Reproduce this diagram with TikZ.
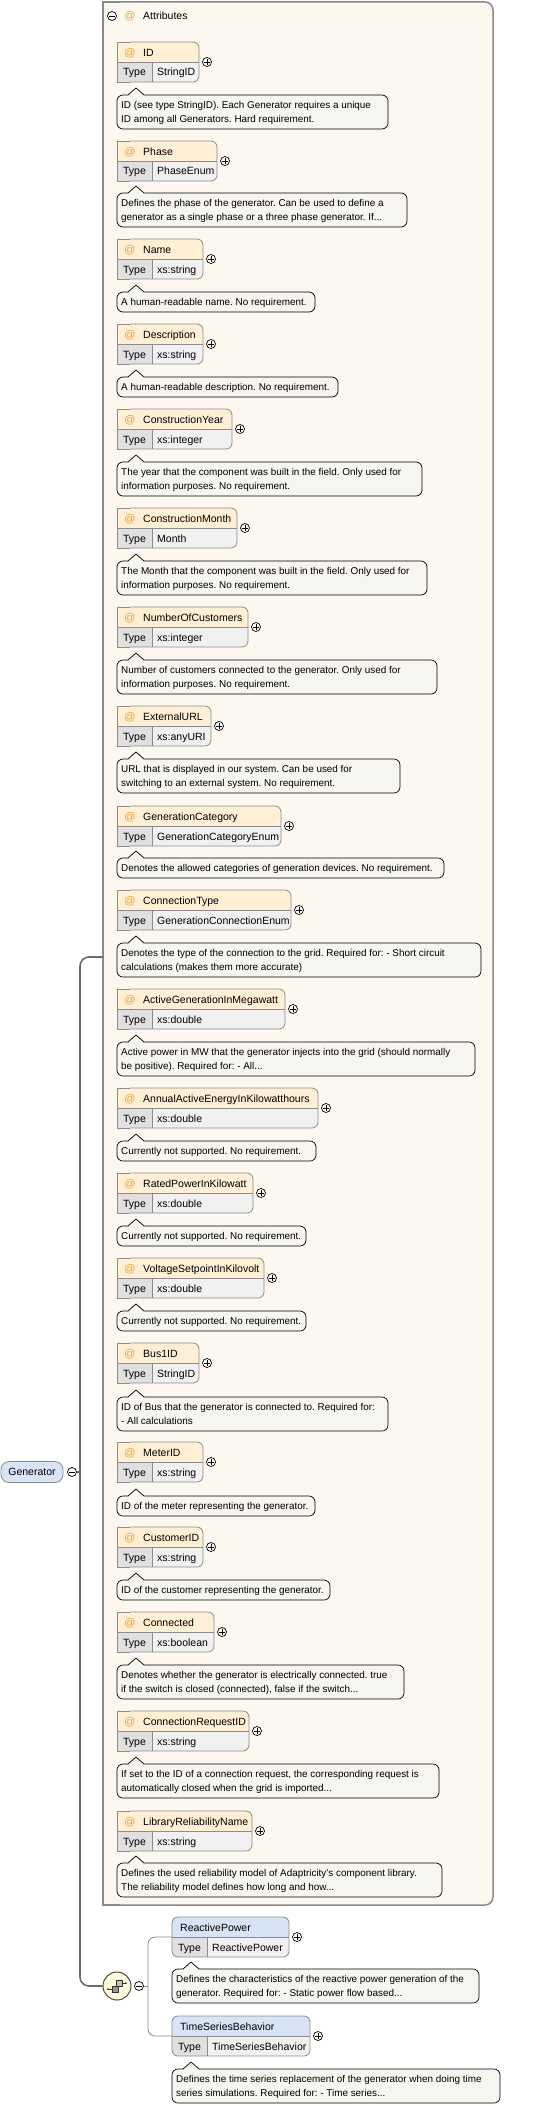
\documentclass[tikz,border=0pt]{standalone}
\usepackage{fontspec}
\setmainfont{Liberation Sans}
\frenchspacing
\definecolor{contfill}{HTML}{FDF8EF}
\definecolor{contline}{HTML}{8A8A8A}
\definecolor{hdrfill}{HTML}{FFEFD4}
\definecolor{typefill}{HTML}{E0E0E0}
\definecolor{valfill}{HTML}{F1F1F1}
\definecolor{boxline}{HTML}{8C8C8C}
\definecolor{cmtfill}{HTML}{F7F5EF}
\definecolor{elhdr}{HTML}{D7E4F6}
\definecolor{genfill}{HTML}{D8E5F7}
\definecolor{seqfill}{HTML}{FFFCDC}
\definecolor{atcol}{HTML}{F0A030}
\definecolor{connc}{HTML}{6B6B6B}
\tikzset{
  nm/.style={font=\fontsize{10.5}{12}\selectfont, inner sep=0, anchor=base west},
  nmc/.style={font=\fontsize{10.5}{12}\selectfont, inner sep=0, anchor=base},
  ct/.style={font=\fontsize{9.9}{11}\selectfont, inner sep=0, anchor=base west},
  atsym/.style={font=\fontsize{11}{12}\selectfont, text=atcol, inner sep=0, anchor=base},
  boxl/.style={draw=boxline, line width=0.8pt},
  cmtl/.style={draw=black, line width=0.7pt},
  pc/.style={circle, draw=black, fill=white, line width=0.7pt, minimum size=9pt, inner sep=0},
  pcl/.style={draw=black, line width=0.7pt},
  conn/.style={draw=connc, line width=1.6pt},
  conn2/.style={draw=boxline, line width=0.8pt},
}
\newcommand\pluscirc[3]{%
  \node[pc] (#1) at (#2,#3) {};
  \draw[pcl] (#2-2.6,#3) -- (#2+2.6,#3) (#2,#3-2.6) -- (#2,#3+2.6);
}
\newcommand\minuscirc[3]{%
  \node[pc] (#1) at (#2,#3) {};
  \draw[pcl] (#2-2.6,#3) -- (#2+2.6,#3);
}
\newcommand\attr[5]{% id, top, right, name, type
  \begin{scope}
    \clip (110,#2-1) rectangle (#3+1,#2+20);
    \fill[hdrfill,rounded corners=6pt] (117,#2) rectangle (#3,#2+40);
    \fill[hdrfill] (117,#2) rectangle (130,#2+40);
  \end{scope}
  \begin{scope}
    \clip (110,#2+20) rectangle (#3+1,#2+41);
    \fill[valfill,rounded corners=6pt] (117,#2) rectangle (#3,#2+40);
    \fill[typefill] (117,#2+20) rectangle (152,#2+40);
  \end{scope}
  \draw[boxl,rounded corners=6pt] (130,#2) -- (#3,#2) -- (#3,#2+40) -- (130,#2+40);
  \draw[boxl] (130,#2) -- (117,#2) -- (117,#2+40) -- (130,#2+40);
  \draw[boxl] (117,#2+20) -- (#3,#2+20) (152,#2+20) -- (152,#2+40);
  \node[atsym] (#1-at) at (130,#2+14.3) {@};
  \node[nm] (#1-n) at (143,#2+14.3) {#4};
  \node[nmc] (#1-t) at (134.5,#2+34) {Type};
  \node[nm] (#1-v) at (157,#2+34) {#5};
  \pluscirc{#1-p}{#3+8}{#2+20}
}
\newcommand\elem[5]{% id, top, right, name, type
  \begin{scope}
    \clip[rounded corners=6pt] (172,#2) rectangle (#3,#2+40);
    \fill[elhdr] (172,#2) rectangle (#3,#2+20);
    \fill[valfill] (172,#2+20) rectangle (#3,#2+40);
    \fill[typefill] (172,#2+20) rectangle (207,#2+40);
  \end{scope}
  \draw[boxl,rounded corners=6pt] (172,#2) rectangle (#3,#2+40);
  \draw[boxl] (172,#2+20) -- (#3,#2+20) (207,#2+20) -- (207,#2+40);
  \node[nm] (#1-n) at (180,#2+14.3) {#4};
  \node[nmc] (#1-t) at (189.5,#2+34) {Type};
  \node[nm] (#1-v) at (212,#2+34) {#5};
  \coordinate (#1) at (172,#2+20);
  \pluscirc{#1-p}{#3+8}{#2+20}
}
\newcommand\cmtshape[4]{% L T R B
  \fill[cmtfill,rounded corners=6pt] (#1,#2) rectangle (#3,#4);
  \fill[cmtfill] (#1+11,#2+0.6) -- (#1+19,#2-7) -- (#1+27,#2+0.6) -- cycle;
  \draw[cmtl,rounded corners=6pt] (#1+27,#2) -- (#3,#2) -- (#3,#4) -- (#1,#4) -- (#1,#2) -- (#1+11,#2);
  \draw[cmtl] (#1+11,#2) -- (#1+19,#2-7) -- (#1+27,#2);
}
\newcommand\cmtone[5]{% id L T R text
  \cmtshape{#2}{#3}{#4}{#3+20}
  \node[ct] (#1) at (#2+4,#3+13.5) {#5};
}
\newcommand\cmttwo[6]{% id L T R line1 line2
  \cmtshape{#2}{#3}{#4}{#3+34}
  \node[ct] (#1a) at (#2+4,#3+13.5) {#5};
  \node[ct] (#1b) at (#2+4,#3+27.5) {#6};
}
\begin{document}
\begin{tikzpicture}[x=1pt,y=-1pt]
\useasboundingbox (0,0) rectangle (545,2106);
\fill[white] (0,0) rectangle (545,2106);
% Attributes container
\fill[contfill,rounded corners=8pt] (103,2) rectangle (493,1905);
\fill[contfill] (103,2) rectangle (120,1905);
\draw[draw=contline,line width=1.5pt,rounded corners=8pt] (120,2) -- (493,2) -- (493,1905) -- (120,1905);
\draw[draw=contline,line width=1.5pt] (120,2) -- (103,2) -- (103,1905) -- (120,1905);
\coordinate (attrL) at (103,957);
\minuscirc{attrm}{112}{16}
\node[atsym] (attr-at) at (130,20) {@};
\node[nm] (attr-n) at (143,20) {Attributes};
\shade[left color=contfill, middle color=black!45, right color=contfill] (106,29.3) rectangle (400,30.8);
% attributes
\attr{id}{42}{199}{ID}{StringID}
\cmttwo{idc}{117}{95}{388}{ID (see type StringID). Each Generator requires a unique}{ID among all Generators. Hard requirement.}
\attr{phase}{141}{217}{Phase}{PhaseEnum}
\cmttwo{phasec}{117}{193}{407}{Defines the phase of the generator. Can be used to define a}{generator as a single phase or a three phase generator. If...}
\attr{name}{239}{203}{Name}{xs:string}
\cmtone{namec}{117}{292}{315}{A human-readable name. No requirement.}
\attr{desc}{324}{203}{Description}{xs:string}
\cmtone{descc}{117}{377}{338}{A human-readable description. No requirement.}
\attr{cy}{409}{232}{ConstructionYear}{xs:integer}
\cmttwo{cyc}{117}{462}{422}{The year that the component was built in the field. Only used for}{information purposes. No requirement.}
\attr{cm}{508}{237}{ConstructionMonth}{Month}
\cmttwo{cmc}{117}{561}{427}{The Month that the component was built in the field. Only used for}{information purposes. No requirement.}
\attr{noc}{607}{248}{NumberOfCustomers}{xs:integer}
\cmttwo{nocc}{117}{660}{437}{Number of customers connected to the generator. Only used for}{information purposes. No requirement.}
\attr{url}{706}{211}{ExternalURL}{xs:anyURI}
\cmttwo{urlc}{117}{759}{400}{URL that is displayed in our system. Can be used for}{switching to an external system. No requirement.}
\attr{gc}{806}{281}{GenerationCategory}{GenerationCategoryEnum}
\cmtone{gcc}{117}{858}{444}{Denotes the allowed categories of generation devices. No requirement.}
\attr{ctype}{890}{291}{ConnectionType}{GenerationConnectionEnum}
\cmttwo{ctypec}{117}{943}{481}{Denotes the type of the connection to the grid. Required for: - Short circuit}{calculations (makes them more accurate)}
\attr{agm}{989}{285}{ActiveGenerationInMegawatt}{xs:double}
\cmttwo{agmc}{117}{1042}{475}{Active power in MW that the generator injects into the grid (should normally}{be positive). Required for: - All...}
\attr{aae}{1088}{318}{AnnualActiveEnergyInKilowatthours}{xs:double}
\cmtone{aaec}{117}{1141}{316}{Currently not supported. No requirement.}
\attr{rpk}{1173}{253}{RatedPowerInKilowatt}{xs:double}
\cmtone{rpkc}{117}{1226}{306}{Currently not supported. No requirement.}
\attr{vsk}{1258}{264}{VoltageSetpointInKilovolt}{xs:double}
\cmtone{vskc}{117}{1311}{306}{Currently not supported. No requirement.}
\attr{bus}{1343}{199}{Bus1ID}{StringID}
\cmttwo{busc}{117}{1397}{388}{ID of Bus that the generator is connected to. Required for:}{- All calculations}
\attr{meter}{1442}{203}{MeterID}{xs:string}
\cmtone{meterc}{117}{1496}{315}{ID of the meter representing the generator.}
\attr{cust}{1527}{203}{CustomerID}{xs:string}
\cmtone{custc}{117}{1580}{330}{ID of the customer representing the generator.}
\attr{conn}{1612}{214}{Connected}{xs:boolean}
\cmttwo{connc}{117}{1665}{404}{Denotes whether the generator is electrically connected. true}{if the switch is closed (connected), false if the switch...}
\attr{crid}{1711}{249}{ConnectionRequestID}{xs:string}
\cmttwo{cridc}{117}{1764}{439}{If set to the ID of a connection request, the corresponding request is}{automatically closed when the grid is imported...}
\attr{lrn}{1811}{252}{LibraryReliabilityName}{xs:string}
\cmttwo{lrnc}{117}{1863}{442}{Defines the used reliability model of Adaptricity's component library.}{The reliability model defines how long and how...}
% Generator root
\node[draw=boxline, fill=genfill, line width=0.8pt, rounded corners=8pt, minimum width=62pt, minimum height=21pt, inner sep=0, font=\fontsize{10.5}{12}\selectfont] (gen) at (32,1472) {Generator};
\minuscirc{genm}{72}{1472}
\coordinate (jn) at (80,1472);
% sequence compositor
\node[circle, draw=black!70, fill=seqfill, line width=1pt, minimum size=28pt, inner sep=0] (seq) at (117,1986) {};
\draw[black!80, line width=0.6pt] (108,1989) -- (112,1989) (122,1983) -- (126,1983);
\fill[black!80] (108,1989) circle (1pt) (126,1983) circle (1pt);
\draw[black!80, fill=black!40, line width=0.5pt] (112,1986) rectangle (118,1992);
\draw[black!80, fill=black!25, line width=0.5pt] (116,1980) rectangle (122,1986);
\minuscirc{seqm}{139}{1986}
\coordinate (jn2) at (148,1986);
\draw[conn] (genm.east) -- (jn);
\draw[conn, rounded corners=9pt] (jn) |- (attrL);
\draw[conn, rounded corners=9pt] (jn) |- (seq.west);
% elements
\elem{rp}{1917}{289}{ReactivePower}{ReactivePower}
\cmttwo{rpc}{172}{1969}{479}{Defines the characteristics of the reactive power generation of the}{generator. Required for: - Static power flow based...}
\elem{tsb}{2016}{310}{TimeSeriesBehavior}{TimeSeriesBehavior}
\cmttwo{tsbc}{172}{2069}{500}{Defines the time series replacement of the generator when doing time}{series simulations. Required for: - Time series...}
\draw[conn2] (seqm.east) -- (jn2);
\draw[conn2, rounded corners=7pt] (jn2) |- (rp);
\draw[conn2, rounded corners=7pt] (jn2) |- (tsb);
\end{tikzpicture}
\end{document}
